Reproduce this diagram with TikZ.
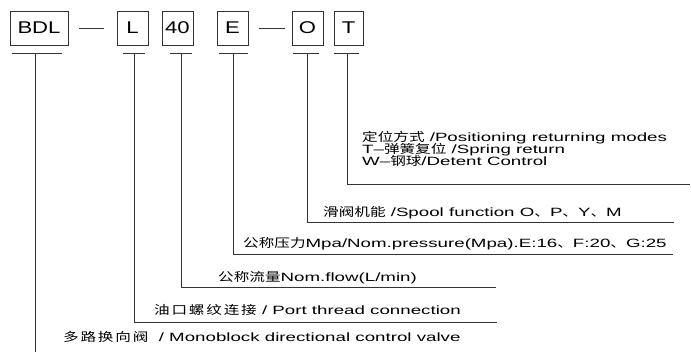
\documentclass[tikz,border=0pt]{standalone}
\usepackage{fontspec}
\setmainfont{Liberation Sans}[FakeStretch=1.56]
\newfontfamily\codefont{Liberation Sans}[FakeStretch=1.3]
\newfontfamily\cjk{Noto Sans CJK SC}[FakeStretch=1.3]
\newfontfamily\cjkwide{Noto Sans CJK SC}[FakeStretch=1.3, LetterSpace=15]
\newcommand{\zh}[1]{{\cjk #1}}
\newcommand{\zhw}[1]{{\cjkwide #1}}

\begin{document}
\begin{tikzpicture}[x=1pt,y=-1pt,
		codebox/.style={draw=black!80, line width=0.9pt, minimum height=34pt, inner sep=0pt, font=\codefont\fontsize{17}{17}\selectfont},
		leader/.style={draw=black!80, line width=0.9pt},
		caption/.style={anchor=base west, inner sep=0pt, text height=8pt, text depth=2.2pt, font=\fontsize{12}{11}\selectfont}]
	\useasboundingbox (0,0) rectangle (691,352);
	% code boxes
	\node[codebox, minimum width=58pt] (bdl) at (39,28) {BDL};
	\node[codebox, minimum width=31pt] (l) at (132.5,28) {L};
	\node[codebox, minimum width=31pt] (n40) at (177.5,28) {40};
	\node[codebox, minimum width=31pt] (e) at (232.5,28) {E};
	\node[codebox, minimum width=31pt] (o) at (307.5,28) {O};
	\node[codebox, minimum width=29pt] (t) at (348.5,28) {T};
	\draw[leader] ([xshift=11pt]bdl.east) -- ([xshift=-13pt]l.west);
	\draw[leader] ([xshift=11pt]e.east) -- ([xshift=-7pt]o.west);
	% leaders
	\draw[leader] (12,53) -- (62,53) (35,53) -- (35,352);
	\foreach \b/\xa/\xb/\xm/\yc/\xe in {l/123/145/134/322/497, n40/170/192/181/287/496,
			e/219/248/233/254/673, o/293/319/307/222/674, t/334/359/347/184/690}{
		\coordinate (\b-top) at (\xm,53);
		\coordinate (\b-knee) at (\xm,\yc);
		\coordinate (\b-end) at (\xe,\yc);
		\draw[leader] (\xa,53) -- (\xb,53) (\b-top) -- (\b-knee) -- (\b-end);
	}
	% captions
	\node[caption] (tmode) at (362,142) {\zh{定位方式} /Positioning returning modes};
	\node[caption] (tspring) at (362,154) {T–\zh{弹簧复位} /Spring return};
	\node[caption] (tball) at (362,166) {W–\zh{钢球}/Detent Control};
	\node[caption] (spool) at (323,217) {\zh{滑阀机能} /Spool function O\zh{、}P\zh{、}Y\zh{、}M};
	\node[caption] (press) at (243,248) {\zh{公称压力}Mpa/Nom.pressure(Mpa).E:16\zh{、}F:20\zh{、}G:25};
	\node[caption] (flow) at (218,282) {\zh{公称流量}Nom.flow(L/min)};
	\node[caption] (port) at (154,315) {\zhw{油口螺纹连接} / Port thread connection};
	\node[caption] (valve) at (63,342) {\zhw{多路换向阀}\ \ / Monoblock directional control valve};
\end{tikzpicture}
\end{document}
